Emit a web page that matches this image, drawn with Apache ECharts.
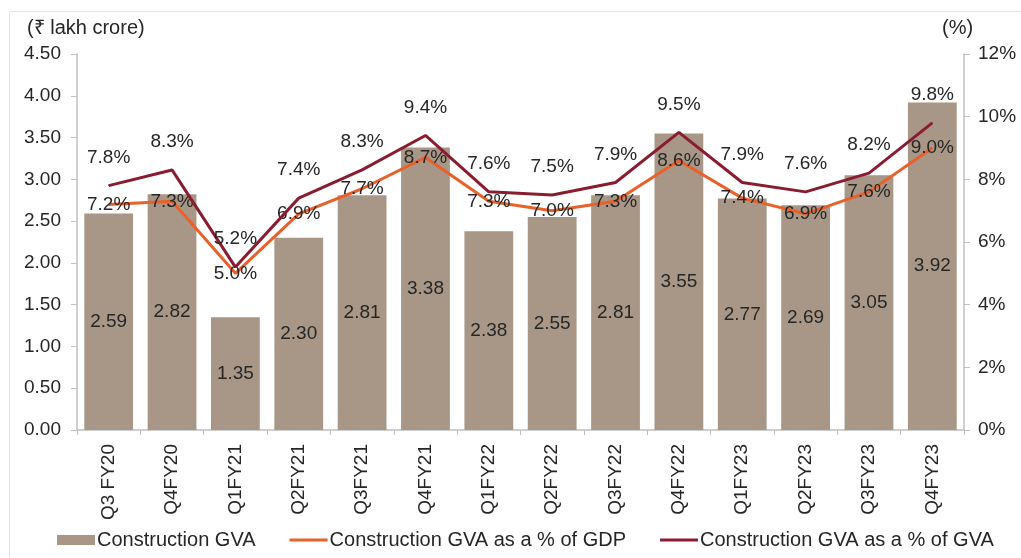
<!DOCTYPE html>
<html>
<head>
<meta charset="utf-8">
<script src="https://cdn.jsdelivr.net/npm/echarts@6/dist/echarts.min.js"></script>
<style>
	html, body { margin: 0; padding: 0; background: #fff; }
	#chart { width: 1021px; height: 558px; }
</style>
</head>
<body>
<div id="chart"></div>
<script>
var quarters = ['Q3 FY20', 'Q4FY20', 'Q1FY21', 'Q2FY21', 'Q3FY21', 'Q4FY21', 'Q1FY22',
	'Q2FY22', 'Q3FY22', 'Q4FY22', 'Q1FY23', 'Q2FY23', 'Q3FY23', 'Q4FY23'];
var constructionGva = [2.59, 2.82, 1.35, 2.30, 2.81, 3.38, 2.38, 2.55, 2.81, 3.55, 2.77, 2.69, 3.05, 3.92];
var shareOfGdp = [7.2, 7.3, 5.0, 6.9, 7.7, 8.7, 7.3, 7.0, 7.3, 8.6, 7.4, 6.9, 7.6, 9.0];
var shareOfGva = [7.8, 8.3, 5.2, 7.4, 8.3, 9.4, 7.6, 7.5, 7.9, 9.5, 7.9, 7.6, 8.2, 9.8];

var FONT = '"Liberation Sans", Arial, sans-serif';
var TXT = '#262626';
var LINE_ICON = 'path://M0,0L40,0L40,3L0,3Z';

var chart = echarts.init(document.getElementById('chart'));
var option = {
	animation: false,
	textStyle: { fontFamily: FONT },
	graphic: [{
		type: 'rect',
		shape: { x: 9.5, y: 11.5, width: 1100, height: 600 },
		style: { fill: 'none', stroke: '#e8e4d6', lineWidth: 1 }
	}, {
		type: 'text', left: 27, top: 18,
		style: { text: '(₹ lakh crore)', font: '20px ' + FONT, fill: TXT }
	}, {
		type: 'text', left: 942, top: 18,
		style: { text: '(%)', font: '20px ' + FONT, fill: TXT }
	}],
	legend: {
		bottom: 3,
		left: 52,
		itemWidth: 38,
		itemHeight: 10,
		itemGap: 34,
		textStyle: { fontSize: 20, color: TXT, fontFamily: FONT, padding: [0, 0, 0, -3] },
		data: [
			{ name: 'Construction GVA', icon: 'rect' },
			{ name: 'Construction GVA as a % of GDP', icon: LINE_ICON },
			{ name: 'Construction GVA as a % of GVA', icon: LINE_ICON }
		]
	},
	grid: { left: 77, right: 57, top: 54, bottom: 128 },
	xAxis: {
		type: 'category',
		data: quarters,
		axisLine: { lineStyle: { color: '#bfbfbf', width: 1.5 } },
		axisTick: { show: true, length: 5, lineStyle: { color: '#bfbfbf' } },
		axisLabel: { rotate: 90, fontSize: 19, color: TXT, margin: 14, interval: 0 }
	},
	yAxis: [{
		type: 'value',
		min: 0, max: 4.5, interval: 0.5,
		splitLine: { show: false },
		axisLine: { show: true, lineStyle: { color: '#bfbfbf', width: 1.5 } },
		axisTick: { show: true, length: 6, lineStyle: { color: '#bfbfbf' } },
		axisLabel: {
			fontSize: 19, color: TXT, margin: 16,
			formatter: function (v) { return v.toFixed(2); }
		}
	}, {
		type: 'value',
		min: 0, max: 12, interval: 2,
		splitLine: { show: false },
		axisLine: { show: true, lineStyle: { color: '#bfbfbf', width: 1.5 } },
		axisTick: { show: true, length: 6, lineStyle: { color: '#bfbfbf' } },
		axisLabel: { fontSize: 19, color: TXT, margin: 14, formatter: '{value}%' }
	}],
	series: [{
		name: 'Construction GVA',
		type: 'bar',
		barCategoryGap: '23%',
		data: constructionGva,
		itemStyle: { color: '#a89786' },
		label: {
			show: true, position: 'inside', fontSize: 19, color: TXT,
			formatter: function (p) { return p.value.toFixed(2); }
		}
	}, {
		name: 'Construction GVA as a % of GDP',
		type: 'line',
		yAxisIndex: 1,
		data: shareOfGdp,
		symbol: 'circle', symbolSize: 1,
		itemStyle: { color: '#e8602a' },
		lineStyle: { color: '#e8602a', width: 3 },
		label: {
			show: true, position: 'inside', fontSize: 19, color: TXT,
			formatter: function (p) { return p.value.toFixed(1) + '%'; }
		},
		z: 3
	}, {
		name: 'Construction GVA as a % of GVA',
		type: 'line',
		yAxisIndex: 1,
		data: shareOfGva,
		symbol: 'circle', symbolSize: 1,
		itemStyle: { color: '#8a1c30' },
		lineStyle: { color: '#8a1c30', width: 3 },
		label: {
			show: true, position: 'top', distance: 18, fontSize: 19, color: TXT,
			formatter: function (p) { return p.value.toFixed(1) + '%'; }
		},
		z: 4
	}]
};
chart.setOption(option);
</script>
</body>
</html>
